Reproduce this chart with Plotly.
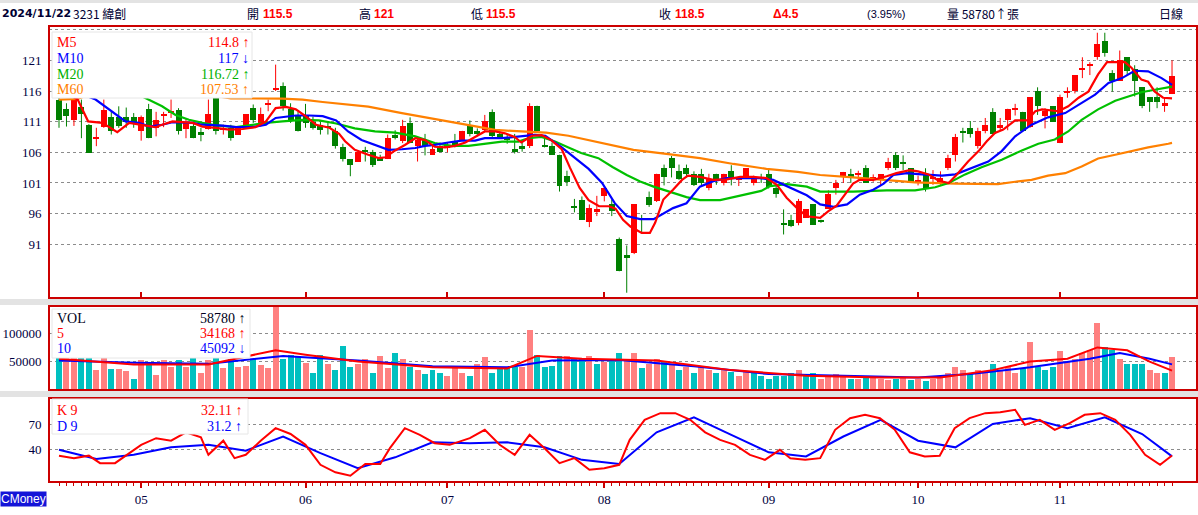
import plotly.graph_objects as go

# ---------------- data ----------------
opens = [114.6, 113.0, 111.3, 113.4, 110.4, 108.3, 110.2, 111.7, 111.7, 111.7,
         111.7, 109.4, 113.0, 110.0, 112.0, 112.5, 112.85, 109.8, 110.35, 109.3,
         109.8, 115.4, 109.7, 110.0, 108.9, 110.2, 113.3, 110.8, 113.8, 116.2,
         116.8, 113.0, 112.0, 111.9, 111.0, 110.5, 110.3, 109.4, 106.8, 104.9,
         104.5, 106.4, 106.0, 105.3, 104.9, 108.8, 107.8, 110.7, 107.1, 108.0,
         105.6, 107.1, 106.7, 107.8, 108.0, 110.5, 109.5, 109.7, 112.6, 109.0,
         108.5, 106.6, 107.1, 107.1, 113.6, 107.1, 107.0, 105.6, 102.1, 97.2,
         98.3, 94.6, 96.3, 98.8, 97.6, 91.9, 89.3, 89.6, 95.2, 98.7,
         98.0, 103.4, 105.0, 103.0, 103.4, 102.5, 102.5, 100.1, 102.5, 101.0,
         103.0, 101.5, 101.8, 101.05, 101.8, 102.5, 100.1, 94.4, 95.0, 94.5,
         95.3, 97.5, 95.0, 96.75, 100.2, 102.0, 102.45, 102.4, 103.4, 101.7,
         101.6, 103.4, 105.5, 104.4, 103.4, 101.3, 102.4, 101.7, 101.0, 103.4,
         105.6, 109.4, 110.0, 107.1, 109.5, 112.6, 110.0, 111.2, 113.0, 112.6,
         110.1, 116.0, 112.0, 113.5, 107.5, 115.6, 116.0, 119.5, 120.2, 121.5,
         124.1, 119.0, 117.7, 121.5, 119.6, 116.6, 115.0, 115.0, 113.6, 115.5]
highs = [115.2, 114.0, 114.9, 114.6, 110.6, 110.0, 114.6, 112.6, 113.5, 113.3,
         112.4, 112.0, 113.9, 112.6, 112.6, 114.6, 113.2, 111.6, 110.9, 110.0,
         114.6, 115.7, 110.5, 110.5, 110.0, 112.25, 113.8, 113.3, 114.6, 120.3,
         117.4, 114.0, 112.6, 113.9, 111.8, 111.0, 111.0, 110.0, 107.4, 104.9,
         106.0, 106.9, 106.4, 105.6, 108.9, 109.6, 111.3, 111.7, 108.4, 109.0,
         107.1, 107.6, 107.6, 109.0, 109.5, 111.2, 109.9, 112.1, 113.0, 109.4,
         109.0, 109.0, 107.8, 114.0, 113.6, 108.4, 107.6, 105.6, 103.0, 98.4,
         98.8, 97.5, 98.9, 100.4, 98.3, 92.1, 90.8, 97.5, 95.8, 99.6,
         102.5, 104.0, 105.4, 104.0, 104.0, 102.9, 103.3, 102.5, 102.5, 102.5,
         103.9, 101.9, 103.4, 102.2, 102.5, 103.3, 100.6, 96.7, 95.8, 98.4,
         96.75, 97.5, 95.0, 99.8, 101.5, 102.8, 103.3, 103.0, 103.9, 102.4,
         102.45, 105.1, 106.0, 105.5, 103.4, 102.2, 103.4, 103.1, 102.9, 105.6,
         109.0, 110.0, 111.1, 110.0, 111.6, 113.2, 111.6, 113.1, 113.9, 112.6,
         115.0, 116.6, 113.2, 113.5, 115.4, 116.6, 118.6, 121.5, 120.7, 125.5,
         125.5, 119.4, 122.6, 121.5, 120.2, 116.6, 115.0, 116.6, 115.0, 121.0]
lows = [110.0, 110.2, 110.3, 108.3, 105.9, 107.0, 110.0, 108.9, 110.0, 110.0,
        110.0, 107.9, 108.3, 108.6, 110.1, 111.6, 108.9, 108.3, 108.3, 107.8,
        109.7, 108.9, 108.9, 107.9, 108.9, 110.0, 110.8, 110.2, 112.7, 116.0,
        112.8, 110.8, 109.4, 110.0, 109.7, 108.9, 108.9, 106.6, 104.5, 102.1,
        104.5, 104.5, 103.6, 104.6, 104.9, 108.1, 107.5, 107.5, 104.5, 105.5,
        105.6, 106.0, 106.0, 106.8, 108.0, 108.6, 108.6, 109.4, 108.3, 108.2,
        107.4, 105.8, 106.1, 106.7, 109.4, 106.8, 105.6, 99.6, 100.5, 96.2,
        95.0, 93.8, 95.6, 98.0, 95.6, 86.6, 83.1, 89.4, 92.8, 97.1,
        97.9, 100.6, 101.9, 101.5, 101.9, 100.5, 100.5, 99.8, 100.7, 100.6,
        100.6, 100.5, 101.8, 100.6, 101.0, 100.1, 98.6, 92.6, 93.8, 94.1,
        95.3, 94.2, 94.5, 96.75, 99.1, 101.0, 101.0, 101.4, 101.0, 101.2,
        100.6, 103.1, 103.1, 103.1, 101.0, 100.6, 99.6, 100.7, 100.7, 103.1,
        104.5, 107.6, 108.4, 106.6, 109.1, 109.0, 109.5, 109.6, 112.0, 109.4,
        110.0, 112.1, 109.9, 111.0, 107.5, 114.9, 115.6, 118.1, 118.6, 121.1,
        121.6, 115.9, 117.7, 118.6, 115.1, 113.2, 112.6, 113.2, 112.6, 115.5]
closes = [111.3, 111.9, 114.6, 112.3, 105.9, 108.4, 112.85, 109.4, 110.35, 110.9,
          110.8, 111.7, 108.3, 111.2, 112.1, 112.6, 109.4, 110.8, 108.3, 108.9,
          112.25, 109.4, 109.8, 108.3, 110.0, 112.25, 111.3, 112.25, 113.9, 116.3,
          113.6, 111.3, 109.4, 110.8, 110.0, 109.7, 110.0, 107.0, 104.9, 104.0,
          106.0, 106.0, 104.0, 104.6, 108.4, 108.3, 110.3, 107.5, 108.0, 107.1,
          106.6, 106.0, 107.2, 107.2, 109.5, 109.0, 109.0, 111.1, 108.6, 108.5,
          108.0, 106.1, 106.6, 113.6, 109.4, 107.0, 105.6, 100.5, 101.1, 97.1,
          95.0, 96.9, 96.8, 100.1, 96.4, 86.6, 88.8, 97.5, 95.0, 97.35,
          102.5, 102.0, 103.4, 101.6, 102.5, 100.6, 101.0, 101.6, 101.5, 102.5,
          101.8, 101.9, 103.4, 101.9, 101.7, 100.4, 99.2, 94.3, 94.0, 98.0,
          96.75, 94.2, 94.6, 99.2, 101.0, 102.8, 101.75, 102.5, 101.0, 101.8,
          102.45, 104.4, 103.4, 104.1, 101.2, 101.4, 100.0, 101.8, 101.8, 105.1,
          108.5, 109.3, 109.0, 109.4, 110.4, 109.0, 110.4, 113.1, 113.1, 109.5,
          115.0, 113.6, 112.8, 111.0, 115.0, 116.0, 118.6, 119.6, 120.3, 123.7,
          122.2, 117.6, 121.0, 119.3, 117.7, 113.6, 114.2, 114.2, 114.0, 118.5]
volumes = [58000, 56000, 58000, 57000, 58000, 36000, 58000, 37000, 37000, 34000,
           20000, 52000, 49000, 27000, 52000, 40000, 52000, 40000, 58000, 30000,
           52000, 58000, 38000, 55000, 40000, 42000, 54000, 44000, 38000, 150000,
           55000, 62000, 60000, 48000, 30000, 62000, 45000, 35000, 78000, 40000,
           45000, 55000, 30000, 60000, 38000, 65000, 55000, 40000, 35000, 28000,
           35000, 30000, 25000, 42000, 30000, 25000, 45000, 58000, 30000, 40000,
           38000, 40000, 40000, 105000, 62000, 40000, 42000, 60000, 60000, 55000,
           55000, 60000, 45000, 50000, 55000, 65000, 55000, 65000, 38000, 45000,
           55000, 50000, 45000, 35000, 40000, 30000, 40000, 35000, 30000, 35000,
           32000, 25000, 32000, 30000, 25000, 20000, 25000, 25000, 30000, 35000,
           25000, 30000, 20000, 25000, 28000, 25000, 20000, 20000, 25000, 22000,
           20000, 18000, 20000, 22000, 18000, 20000, 15000, 20000, 22000, 30000,
           40000, 35000, 30000, 35000, 32000, 45000, 35000, 40000, 30000, 38000,
           85000, 40000, 35000, 40000, 68000, 50000, 55000, 65000, 70000, 118000,
           75000, 70000, 55000, 45000, 45000, 45000, 35000, 30000, 30000, 58780]

ma5_x = [0, 1.5, 2.5, 3.9, 5.8, 7.8, 9.4, 11.6, 12.9, 13.8, 15.2, 17.9, 19.2, 21, 22.8, 24.6, 26.3, 27.7, 29, 30.4,
         31.7, 33, 34.4, 36.2, 37.5, 38.3, 39.6, 41.4, 42.8, 43.7, 45, 46.3, 47.7, 49, 50.3, 51.7, 53, 54.4, 55.7, 57,
         58.4, 59.7, 61, 61.9, 63.3, 64.6, 65.9, 67.3, 68.4, 69.7, 70.9, 72.3, 73.6, 74.5, 75.5, 76.5, 78, 79.1, 79.8, 80.9,
         82.2, 83.4, 84.2, 85.8, 87.6, 89.4, 91.2, 92.9, 94.7, 96.1, 97.4, 98.8, 100.1, 101.9, 103, 104.1, 105.5, 106.3, 107.2, 109,
         110.8, 112.1, 113.9, 115, 116.4, 117.7, 119.1, 120.2, 121.7, 123.1, 124.2, 125.3, 126.4, 128, 129.6, 130.7, 131.6, 133.8, 135.1, 136.5,
         137.8, 139.1, 140.3, 142.7, 143.6, 144.9, 145.8, 146.7, 147.8, 149]
ma5_y = [115.6, 115.3, 114.6, 111.05, 110.8, 109.3, 110.8, 110.4, 110.1, 110.5, 111.05, 110.8, 110.2, 110.0, 109.7, 109.8, 110.1, 111.05, 113.2, 113.4,
         113.0, 111.9, 110.5, 110.0, 109.0, 107.8, 106.4, 105.6, 105.05, 105.2, 106.3, 107.2, 108.3, 108.0, 106.9, 106.8, 107.05, 107.6, 108.5, 109.4,
         109.4, 109.1, 108.5, 107.6, 108.7, 108.8, 108.0, 106.5, 103.5, 100.2, 98.2, 97.2, 97.2, 96.8, 95.0, 93.9, 92.85, 92.85, 94.5, 98.3,
         99.9, 101.5, 102.2, 102.0, 101.5, 101.6, 102.0, 102.0, 101.8, 100.7, 98.6, 96.9, 95.57, 95.3, 96.4, 97.3, 99.6, 100.9, 101.5, 101.5,
         102.1, 102.6, 103.1, 102.9, 102.4, 101.4, 101.0, 102.4, 104.5, 106.2, 107.8, 109.15, 109.7, 111.2, 111.2, 112.7, 113.0, 112.7, 113.5, 114.9,
         115.9, 118.7, 120.7, 120.7, 119.75, 117.85, 117.5, 115.9, 114.9, 114.8]

ma10_x = [0, 3, 4.9, 7.6, 8.9, 10.7, 12.1, 13.8, 15.2, 17.9, 19.2, 21.9, 23.7, 25.9, 27.7, 29, 31.7, 33.5, 35.3, 37.1,
          38.7, 40.5, 42.3, 44.1, 45.9, 47.7, 49, 50.3, 52.1, 53.9, 55.7, 57, 59.3, 61, 62.4, 63.7, 65.1, 67.3, 69.1, 70.9,
          72.7, 74.4, 76, 77.8, 79.6, 80.9, 82.2, 84, 85.8, 87.6, 89.4, 92, 93.8, 95.6, 97.2, 98.5, 100.1, 101.9, 103.7, 105.5,
          107.2, 109, 110.4, 111.7, 113.5, 115, 118.2, 120, 122.2, 124.4, 126.2, 128, 130.2, 132.4, 134.7, 136.9, 138.7, 140.5, 142.3, 144,
          145.8, 147.6, 149]
ma10_y = [116.0, 115.5, 114.6, 112.1, 111.05, 110.8, 110.2, 110.5, 110.9, 110.8, 110.5, 110.35, 110.1, 110.1, 110.5, 111.6, 112.0, 112.0, 111.9, 111.2,
          109.4, 108.0, 107.2, 106.4, 106.5, 106.7, 107.05, 107.2, 107.6, 107.9, 107.9, 108.3, 108.3, 108.5, 108.7, 108.85, 108.7, 106.8, 105.05, 103.3,
          101.0, 97.7, 95.6, 95.1, 95.1, 96.0, 96.9, 97.7, 100.4, 101.3, 101.8, 101.8, 101.8, 101.5, 100.6, 99.8, 99.0, 97.5, 97.1, 97.5,
          99.1, 99.9, 100.9, 102.3, 102.6, 102.45, 102.2, 102.4, 103.45, 104.5, 106.2, 108.6, 110.5, 111.7, 112.4, 114.0, 115.4, 117.3, 118.1, 119.3,
          119.2, 118.1, 117.0]

ma20_x = [0, 6, 10, 12.1, 13.8, 15.6, 17.4, 19.2, 21, 23.7, 25.4, 27.7, 29.9, 32.6, 34.8, 37.1, 39.6, 42.3, 45, 47.7,
          50.3, 52.6, 54.8, 57, 59.3, 61.5, 62.8, 64.6, 66.4, 68.2, 69.9, 72.2, 74.1, 76, 77.8, 79.6, 81.8, 84, 85.8, 88.5,
          90.3, 92.1, 94, 95.2, 97.4, 100.1, 101.9, 106.3, 110.8, 114.6, 117.3, 119.1, 121.3, 123.5, 126.2, 128.9, 131.1, 133.3, 135.1, 136.9,
          139.1, 141.4, 143.2, 144.9, 146.7, 149]
ma20_y = [118.5, 117.0, 115.8, 114.6, 113.5, 112.1, 111.3, 110.8, 110.4, 110.1, 110.4, 110.8, 111.05, 111.3, 111.2, 110.7, 109.9, 109.4, 109.2, 108.6,
          107.5, 107.05, 107.05, 107.4, 107.75, 107.75, 108.3, 108.5, 107.75, 106.8, 105.9, 105.05, 103.6, 102.3, 101.25, 100.4, 99.6, 98.7, 98.2, 98.2,
          98.7, 99.2, 99.7, 100.5, 100.8, 100.4, 99.6, 99.6, 99.8, 99.8, 100.3, 101.0, 102.4, 103.55, 104.8, 106.3, 107.4, 108.1, 109.4, 111.3,
          113.0, 114.4, 115.1, 115.8, 116.2, 116.72]

ma60_x = [0, 2.5, 4, 10, 20, 23, 29.9, 32.6, 35.3, 37.5, 41.4, 45.9, 50.3, 54.8, 58.4, 61.9, 65.2, 68.2, 72.4, 76.9, 81.3,
          85.8, 90.3, 94.7, 98.9, 101.9, 106.3, 110.8, 114.6, 120, 125.7, 128, 130.2, 132.4, 134.7, 136.9, 139.1, 141.4, 143.6, 145.8, 148.5,
          149]
ma60_y = [114.6, 114.7, 115.4, 115.6, 115.4, 114.8, 114.75, 114.6, 114.2, 113.9, 113.45, 112.4, 111.4, 110.5, 109.65, 109.4, 109.2, 108.7, 107.6, 106.4, 105.75,
          105.05, 104.1, 103.3, 102.8, 102.3, 101.9, 101.5, 101.1, 100.9, 100.8, 101.2, 101.5, 102.2, 102.6, 103.7, 105.0, 105.6, 106.2, 106.8, 107.4,
          107.53]

vol5_x = [0, 10, 20, 29, 33, 40, 50, 60, 64, 70, 80, 90, 100, 110, 118, 125, 130, 135, 139, 143, 146, 149]
vol5_y = [55000, 45000, 45000, 70000, 62000, 50000, 40000, 38000, 60000, 55000, 52000, 35000, 25000, 22000, 22000, 35000, 50000, 55000, 75000, 70000, 50000, 34168]
vol10_x = [0, 10, 20, 30, 40, 50, 60, 66, 75, 85, 95, 105, 115, 122, 130, 138, 142, 146, 149]
vol10_y = [52000, 48000, 46000, 60000, 52000, 42000, 40000, 52000, 53000, 42000, 28000, 25000, 22000, 28000, 40000, 55000, 65000, 55000, 45092]

k_x = [0, 2, 4, 5.5, 7.5, 9.5, 11, 13, 15, 17, 19, 20, 22, 23.5, 25, 27, 29, 31, 33, 35,
       37, 39, 41, 43, 44.3, 46.3, 48.3, 50.3, 52.3, 55, 57, 59, 61, 63, 65, 67, 69, 71, 73, 75,
       76.4, 78.4, 80.5, 82.5, 84.5, 86.5, 88.5, 90.5, 92.5, 94.5, 96.5, 97.9, 99.9, 101.9, 103.9, 105.9, 107.9, 109.9, 111.9, 113.9,
       115.9, 117.9, 119.9, 121.9, 124, 126, 128, 129.3, 131.3, 133.3, 135.3, 137.3, 139.4, 141.4, 143.4, 145.4, 147.4, 149]
k_y = [32, 29, 32, 23, 23, 36, 45, 53, 50, 60, 54, 33, 50, 29, 33, 50, 65, 58, 45, 21,
       12, 8, 22, 22, 41, 65, 57, 47, 45, 53, 63, 45, 33, 57, 41, 23, 29, 15, 17, 21,
       51, 75, 83, 83, 75, 60, 51, 45, 33, 27, 39, 29, 27, 29, 63, 77, 81, 77, 63, 36,
       31, 32, 65, 77, 83, 84, 87, 69, 75, 63, 71, 81, 83, 75, 57, 33, 21, 32.11]
d_x = [0, 5, 10, 15, 20, 25, 30, 35, 40, 45, 50, 55, 60, 65, 70, 75, 80, 85, 90, 95,
       100, 105, 110, 115, 120, 125, 130, 135, 140, 145, 149]
d_y = [39, 28, 33, 42, 45, 38, 55, 35, 17, 30, 48, 47, 48, 42, 27, 22, 60, 78, 57, 36,
       31, 55, 75, 50, 42, 70, 77, 65, 78, 58, 31.2]

month_idx = [11, 33, 52, 73, 95, 115, 134]
month_labels = ["05", "06", "07", "08", "09", "10", "11"]

# ---------------- layout helpers ----------------
L, R, T, B = 49, 1197, 26, 482


def px(x):
    return (x - L) / (R - L)


def py(y):
    return (B - y) / (B - T)


RED = "#ff0000"
GREEN = "#008000"
BORDER = "#cc0000"
NAVY = "#000040"
SERIF = "Liberation Serif, Times New Roman, serif"

n = len(closes)
idx = list(range(n))
up = [c >= o for o, c in zip(opens, closes)]
cand_col = [RED if u else GREEN for u in up]
body_base = [min(o, c) if abs(c - o) >= 0.16 else (o + c) / 2 - 0.08 for o, c in zip(opens, closes)]
body_h = [max(abs(c - o), 0.16) for o, c in zip(opens, closes)]
vol_col = ["#00c0c0" if (i == 0 or closes[i] < closes[i - 1]) else "#ff8080" for i in idx]

fig = go.Figure()


def wicks(sel):
    xs, ys = [], []
    for i in idx:
        if up[i] == sel:
            xs += [i, i, None]
            ys += [lows[i], highs[i], None]
    return xs, ys


for sel, col in ((True, RED), (False, GREEN)):
    wx, wy = wicks(sel)
    fig.add_trace(go.Scatter(x=wx, y=wy, mode="lines", line=dict(color=col, width=1),
                             xaxis="x", yaxis="y", hoverinfo="skip"))
fig.add_trace(go.Bar(x=idx, y=body_h, base=body_base, width=0.8, marker=dict(color=cand_col, line=dict(width=0)),
                     xaxis="x", yaxis="y"))

for xs, ys, col in ((ma60_x, ma60_y, "#ff8000"), (ma20_x, ma20_y, "#00c000"),
                    (ma10_x, ma10_y, "#0000ff"), (ma5_x, ma5_y, RED)):
    fig.add_trace(go.Scatter(x=xs, y=ys, mode="lines", line=dict(color=col, width=2.2),
                             xaxis="x", yaxis="y"))

fig.add_trace(go.Bar(x=idx, y=volumes, width=0.8, marker=dict(color=vol_col, line=dict(width=0)),
                     xaxis="x2", yaxis="y2"))
fig.add_trace(go.Scatter(x=vol10_x, y=vol10_y, mode="lines", line=dict(color="#0000ff", width=2),
                         xaxis="x2", yaxis="y2"))
fig.add_trace(go.Scatter(x=vol5_x, y=vol5_y, mode="lines", line=dict(color=RED, width=2),
                         xaxis="x2", yaxis="y2"))

fig.add_trace(go.Scatter(x=d_x, y=d_y, mode="lines", line=dict(color="#0000ff", width=2),
                         xaxis="x3", yaxis="y3"))
fig.add_trace(go.Scatter(x=k_x, y=k_y, mode="lines", line=dict(color=RED, width=2),
                         xaxis="x3", yaxis="y3"))

xr = [(L - 59) / 7.47, (R - 59) / 7.47]
tickfont = dict(family=SERIF, size=13, color=NAVY)
ygrid = dict(showgrid=True, gridcolor="#8c8c8c", griddash="dot", gridwidth=1, zeroline=False,
             ticks="outside", ticklen=4, tickcolor="rgba(0,0,0,0)", tickfont=tickfont, fixedrange=True,
             showline=False)

main_ticks = [91, 96, 101, 106, 111, 116, 121, 126]
fig.update_layout(
    width=1198, height=515,
    margin=dict(l=L, r=1198 - R, t=T, b=515 - B),
    paper_bgcolor="white", plot_bgcolor="white",
    showlegend=False, bargap=0,
    xaxis=dict(domain=[0, 1], anchor="y", range=xr, showticklabels=False, showgrid=False, zeroline=False,
               tickmode="array", tickvals=month_idx, ticks="inside", ticklen=6, tickcolor=BORDER, tickwidth=2),
    yaxis=dict(domain=[py(298), py(26)], range=[82.24, 126.6], tickmode="array", tickvals=main_ticks,
               ticktext=[str(v) for v in main_ticks[:-1]] + [""], **ygrid),
    xaxis2=dict(domain=[0, 1], anchor="y2", range=xr, matches="x", showticklabels=False, showgrid=False,
                zeroline=False, ticks=""),
    yaxis2=dict(domain=[py(390), py(306)], range=[0, 147900], tickmode="array", tickvals=[50000, 100000],
                ticktext=["50000", "100000"], **ygrid),
    xaxis3=dict(domain=[0, 1], anchor="y3", range=xr, matches="x", showgrid=False, zeroline=False,
                tickmode="array", tickvals=month_idx, ticktext=month_labels, ticks="outside", ticklen=5,
                tickwidth=2, tickcolor=BORDER, tickfont=tickfont,
                minor=dict(tickmode="array", tickvals=idx, ticks="outside", ticklen=3, tickcolor=BORDER,
                           tickwidth=1, showgrid=False)),
    yaxis3=dict(domain=[py(482), py(398)], range=[0.4, 101.2], tickmode="array", tickvals=[40, 70],
                ticktext=["40", "70"], **ygrid),
)

shapes = []
# light gray separator bands
for y0, y1 in ((0, 3), (299, 305), (391, 397)):
    shapes.append(dict(type="rect", xref="paper", yref="paper", x0=px(0), x1=px(1198), y0=py(y1), y1=py(y0),
                       fillcolor="#e3e3e3", line=dict(width=0), layer="below"))
# panel borders
for top, bot in ((26, 298), (306, 390), (398, 482)):
    shapes.append(dict(type="rect", xref="paper", yref="paper", x0=0, x1=1, y0=py(bot), y1=py(top),
                       line=dict(color=BORDER, width=2), fillcolor="rgba(0,0,0,0)", layer="above"))
# legend boxes
for x0, x1, y0, y1 in ((52, 252, 32, 98), (52, 250, 309, 358), (52, 248, 399, 434)):
    shapes.append(dict(type="rect", xref="paper", yref="paper", x0=px(x0), x1=px(x1), y0=py(y1), y1=py(y0),
                       fillcolor="white", line=dict(color="#e6e6e6", width=1), layer="above"))
fig.update_layout(shapes=shapes)

ann = []


def text(x, y, s, color, size=13, family=SERIF, anchor="left", bold=False, bg=None):
    d = dict(xref="paper", yref="paper", x=px(x), y=py(y), text=("<b>%s</b>" % s) if bold else s,
             showarrow=False, xanchor=anchor, yanchor="middle",
             font=dict(family=family, size=size, color=color), borderpad=0)
    if bg:
        d["bgcolor"] = bg
    ann.append(d)


# main legend
for yy, lab, val, col in ((43, "M5", "114.8 ↑", RED), (58.5, "M10", "117 ↓", "#0000ff"),
                          (74, "M20", "116.72 ↑", "#00b000"), (89.5, "M60", "107.53 ↑", "#ff8000")):
    text(56, yy, lab, col, size=14)
    text(250, yy, val, col, size=14, anchor="right")
# volume legend
for yy, lab, val, col in ((318, "VOL", "58780 ↑", "#000020"), (333.5, "5", "34168 ↑", RED),
                          (349, "10", "45092 ↓", "#0000ff")):
    text(56, yy, lab, col, size=14)
    text(247, yy, val, col, size=14, anchor="right")
# KD legend
for yy, lab, val, col in ((410, "K 9", "32.11 ↑", RED), (426, "D 9", "31.2 ↑", "#0000ff")):
    text(56, yy, lab, col, size=14)
    text(243, yy, val, col, size=14, anchor="right")

# header
HF = "Liberation Sans, Noto Sans CJK TC, sans-serif"
CJK = "Noto Sans CJK TC, sans-serif"
HY = 14
text(1, HY, "2024/11/22", "#000033", size=11, family="DejaVu Sans, sans-serif", bold=True)
text(72, HY, "3231 緯創", "#000033", size=12, family=CJK)
for x_lab, lab, x_val, val in ((246, "開", 262, "115.5"), (358, "高", 373, "121"), (470, "低", 485, "115.5"),
                               (658, "收", 674, "118.5")):
    text(x_lab, HY, lab, "#000033", size=12, family=CJK)
    text(x_val, HY, val, RED, size=12, family=HF, bold=True)
text(772, HY, "Δ4.5", RED, size=12, family=HF, bold=True)
text(866, HY, "(3.95%)", "#000033", size=11, family=HF)
text(946, HY, "量 58780↑張", "#000033", size=12, family=CJK)
text(1158, HY, "日線", "#000033", size=12, family=CJK)
text(0, 499, "CMoney", "white", size=12, family="Liberation Sans, sans-serif", bg="#1414d8")

fig.update_layout(annotations=ann)
fig.write_html("out.html")
